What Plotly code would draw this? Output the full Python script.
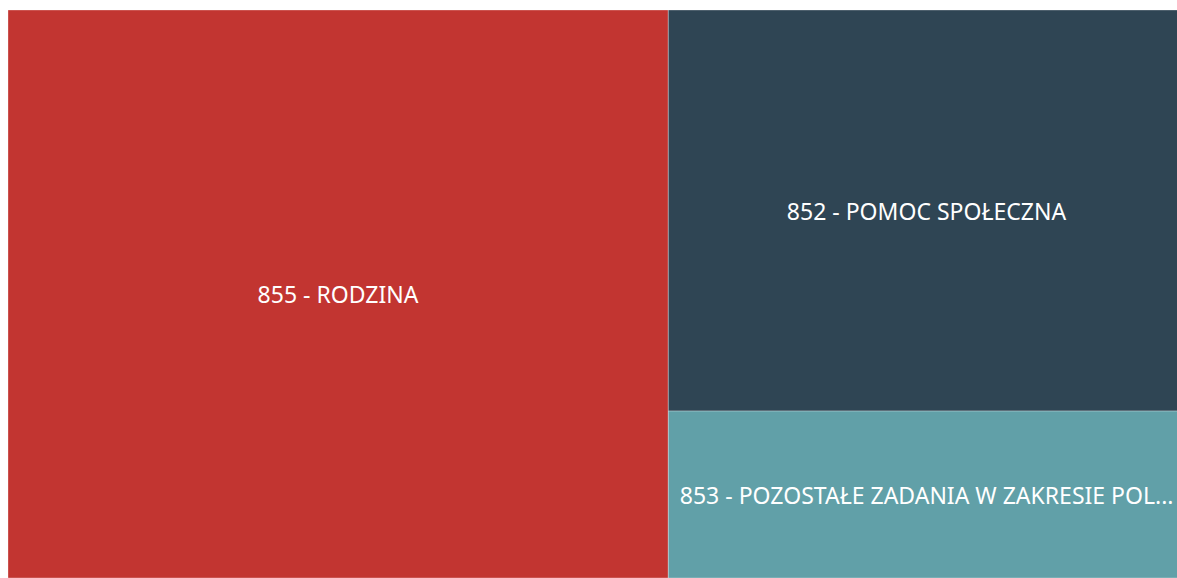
import plotly.graph_objects as go

# Data
labels = ["855 - RODZINA", "852 - POMOC SPOŁECZNA", "853 - POZOSTAŁE ZADANIA W ZAKRESIE POLITYKI SPOŁECZNEJ"]
display_text = ["855 - RODZINA", "852 - POMOC SPOŁECZNA", "853 - POZOSTAŁE ZADANIA W ZAKRESIE POL..."]
values = [56.1, 31.0, 12.9]
colors = ["#C23531", "#2F4554", "#61A0A8"]

fig = go.Figure(go.Treemap(
    labels=labels,
    parents=["", "", ""],
    values=values,
    text=display_text,
    texttemplate="%{text}",
    textposition="middle center",
    sort=True,
    tiling=dict(packing="squarify", pad=0),
    marker=dict(colors=colors, pad=dict(t=0, l=0, r=0, b=0),
                line=dict(width=1, color="rgba(255,255,255,0.3)")),
    insidetextfont=dict(family="Noto Sans, Open Sans, sans-serif", size=23, color="white"),
    pathbar=dict(visible=False),
    hoverinfo="label+value",
))

fig.update_layout(
    width=1185, height=578,
    margin=dict(l=8, r=0, t=10, b=0),
    paper_bgcolor="white",
    showlegend=False,
)

fig.write_html(
    "out.html",
    config={"displayModeBar": False},
    post_script=(
        "document.documentElement.style.overflow='hidden';"
        "document.body.style.overflow='hidden';"
        "document.body.style.margin='0';"
    ),
)
